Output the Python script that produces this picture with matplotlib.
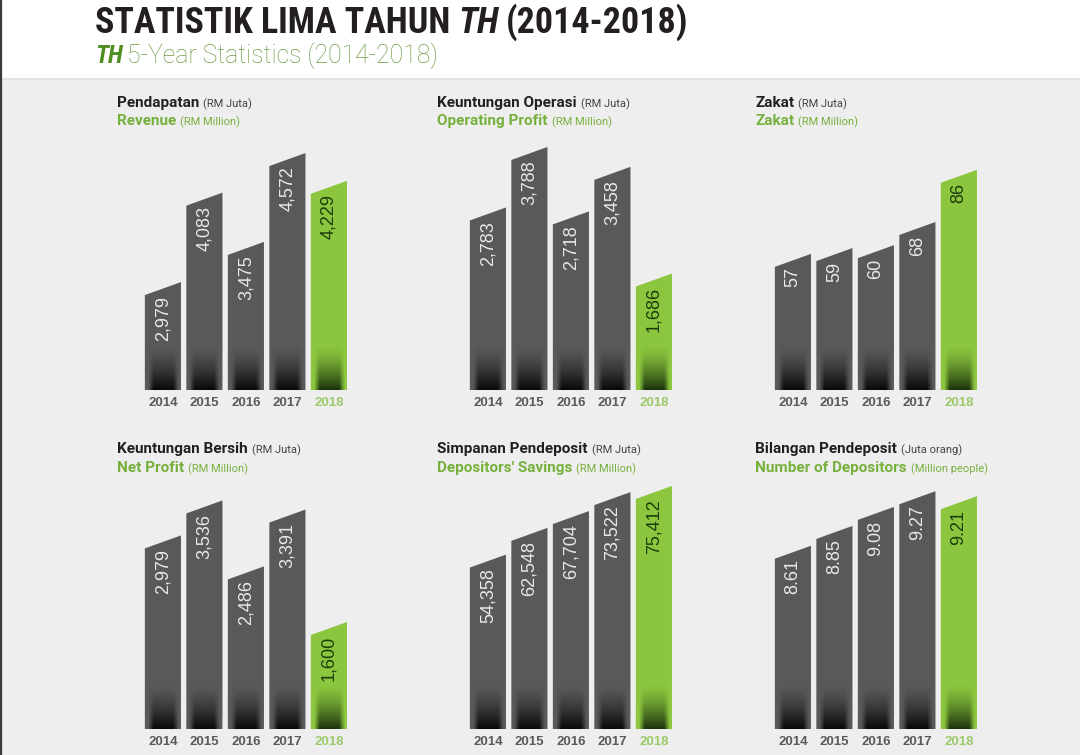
import numpy as np
import matplotlib
matplotlib.use("Agg")
import matplotlib.pyplot as plt
from matplotlib.patches import Polygon, Rectangle
from matplotlib.lines import Line2D
from matplotlib import font_manager

years = ["2014", "2015", "2016", "2017", "2018"]

revenue = [2979, 4083, 3475, 4572, 4229]
operating_profit = [2783, 3788, 2718, 3458, 1686]
zakat = [57, 59, 60, 68, 86]
net_profit = [2979, 3536, 2486, 3391, 1600]
savings = [54358, 62548, 67704, 73522, 75412]
depositors = [8.61, 8.85, 9.08, 9.27, 9.21]

titles_ms = ["Pendapatan", "Keuntungan Operasi", "Zakat",
             "Keuntungan Bersih", "Simpanan Pendeposit", "Bilangan Pendeposit"]
units_ms = ["(RM Juta)"] * 5 + ["(Juta orang)"]
titles_en = ["Revenue", "Operating Profit", "Zakat",
             "Net Profit", "Depositors' Savings", "Number of Depositors"]
units_en = ["(RM Million)"] * 5 + ["(Million people)"]

series = [revenue, operating_profit, zakat, net_profit, savings, depositors]
fmts = ["{:,.0f}"] * 5 + ["{:.2f}"]

# the artwork does not start its bars at zero: per panel floor + pixels per unit
y_floor = [1727, -141, 12.3, 0, 2850, 6.47]
px_per_unit = [0.081, 0.0602, 2.9, 0.0628, 0.00326, 82.6]

W, H = 1080, 755
GREY = "#58595b"
GREEN = "#8cc63f"
TITLE_GREEN = "#77b03c"
BG = "#eeeeee"

fonts = font_manager.fontManager.ttflist
names = {f.name for f in fonts}
HEAD = "Roboto" if "Roboto" in names else "Liberation Sans"

# a condensed face for the big heading, if one is installed
COND = dict(family="Liberation Sans")
for fam in ["Roboto Condensed", "Liberation Sans Narrow", "Open Sans Condensed",
            "DejaVu Sans Condensed"]:
    if fam in names:
        COND = dict(family=fam)
        break
else:
    for f in fonts:
        if f.stretch in ("condensed", "semi-condensed") and f.name in (
                "Noto Sans", "Roboto", "Open Sans", "DejaVu Sans", "Lato", "Inter"):
            COND = dict(family=f.name, stretch=f.stretch)
            break

fig = plt.figure(figsize=(W / 100, H / 100), dpi=100, facecolor=BG)
renderer = fig.canvas.get_renderer()

# white header band
fig.patches.append(Rectangle((0, 1 - 78 / H), 1, 78 / H, transform=fig.transFigure,
                             facecolor="white", edgecolor="none", zorder=0))
fig.lines.append(Line2D([0, 1], [1 - 78.5 / H] * 2, transform=fig.transFigure,
                        color="#e0e0e0", lw=1.2))
fig.lines.append(Line2D([0.8 / W] * 2, [0, 1], transform=fig.transFigure,
                        color="#3a3a3a", lw=1.6))


def text_runs(x, y, runs, width=None):
    # runs of differently styled text on one baseline, x/y in pixels from top-left;
    # with width given, the font sizes are scaled so the whole line spans it
    x_start = x
    made = []
    for txt, gap, kw in runs:
        t = fig.text(x / W, 1 - y / H, txt, va="baseline", ha="left", **kw)
        made.append(t)
        x = t.get_window_extent(renderer=renderer).x1 + gap
    if width is None:
        return
    k = width / (x - x_start)
    x = x_start
    for t, (txt, gap, kw) in zip(made, runs):
        t.set_fontsize(kw["size"] * k)
        t.set_x(x / W)
        x = t.get_window_extent(renderer=renderer).x1 + gap * k


text_runs(95, 33, [
    ("STATISTIK LIMA TAHUN", 8, dict(COND, weight="bold", size=27, color="#231f20")),
    ("TH", 8, dict(COND, weight="bold", style="italic", size=27, color="#231f20")),
    ("(2014-2018)", 0, dict(COND, weight="bold", size=27, color="#231f20")),
], width=595)
text_runs(95, 63, [
    ("TH", 4, dict(COND, weight="bold", style="italic", size=16, color="#4f8f22")),
    ("5-Year Statistics (2014-2018)", 0, dict(family=HEAD, weight="light", size=16, color="#6c9c44")),
], width=345)

# gradient that darkens the foot of every bar
ny, nx = 60, 40
vy = np.linspace(0, 1, ny)[:, None] ** 1.4
xx = np.linspace(0, 1, nx)[None, :]
edge = np.clip((np.minimum(xx, 1 - xx) - 0.08) / 0.15, 0, 1)

col_left = [138, 463, 768]
row_bottom = [390, 729]
title_x = [117, 437, 755]
title_base = [(107, 125), (453, 472)]
AX_H = 255
STEP = 41.5
BAR_W = 0.87

for k, vals in enumerate(series):
    r, c = divmod(k, 3)
    left, bottom = col_left[c], row_bottom[r]
    ax = fig.add_axes([left / W, 1 - bottom / H, 5.2 * STEP / W, AX_H / H])
    ax.set_facecolor("none")
    lo, a = y_floor[k], px_per_unit[k]
    tilt = 6.5 / a
    for i, v in enumerate(vals):
        last = i == len(vals) - 1
        color = GREEN if last else GREY
        x0, x1 = i - BAR_W / 2, i + BAR_W / 2
        bar = Polygon([(x0, lo), (x0, v - tilt), (x1, v + tilt), (x1, lo)],
                      closed=True, facecolor=color, edgecolor="none", zorder=2)
        ax.add_patch(bar)
        shade = np.zeros((ny, nx, 4))
        if last:
            shade[..., :3] = (0.06, 0.14, 0.02)
        shade[..., 3] = 0.9 * vy * edge
        im = ax.imshow(shade, extent=(x0, x1, lo, lo + 45 / a), aspect="auto",
                       interpolation="bilinear", origin="upper", zorder=3)
        im.set_clip_path(bar)
        ax.annotate(fmts[k].format(v), xy=(i, v), xytext=(0, -7), textcoords="offset pixels",
                    rotation=90, ha="center", va="top", family="Liberation Sans",
                    size=13, color="#1e3d0c" if last else "#e8e8e8", zorder=4)
    ax.set_xlim(-0.6, 4.6)
    ax.set_ylim(lo, lo + AX_H / a)
    ax.set_xticks(range(len(years)))
    ax.set_xticklabels(years, family="Liberation Sans", weight="bold", size=9.5, color="#5a5a5a")
    ax.get_xticklabels()[-1].set_color("#9cc96b")
    ax.tick_params(axis="x", length=0, pad=5)
    ax.set_yticks([])
    for s in ax.spines.values():
        s.set_visible(False)

    y1, y2 = title_base[r]
    text_runs(title_x[c], y1, [
        (titles_ms[k], 4, dict(family=HEAD, weight="bold", size=11, color="#231f20")),
        (units_ms[k], 0, dict(family=HEAD, size=8, color="#444444")),
    ])
    text_runs(title_x[c], y2, [
        (titles_en[k], 4, dict(family=HEAD, weight="bold", size=11, color=TITLE_GREEN)),
        (units_en[k], 0, dict(family=HEAD, size=8, color=TITLE_GREEN)),
    ])

fig.savefig("out.png", dpi=100, facecolor=BG)
